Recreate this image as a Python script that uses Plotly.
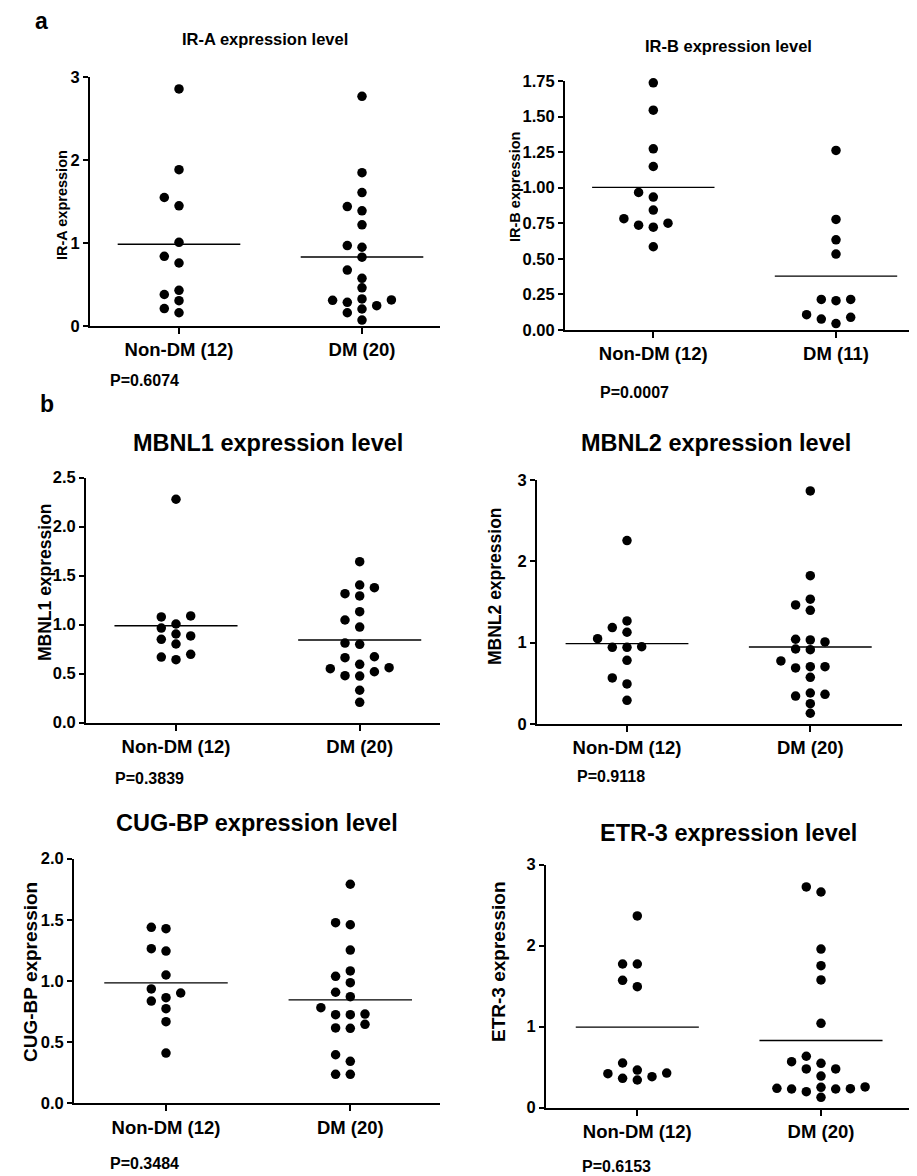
import numpy as np
import plotly.graph_objects as go

# The page body adds an 8px margin, so the figure is drawn 8px smaller and all
# reference pixel positions are shifted by this offset.
PAGE_W, PAGE_H = 917, 1176
OFF = 8
W, H = PAGE_W - OFF, PAGE_H - OFF

# ---------------- data ----------------
GROUPS_A = ["Non-DM (12)", "DM (20)"]
GROUPS_B = ["Non-DM (12)", "DM (11)"]

IRA_NON = [2.86, 1.885, 1.55, 1.45, 1.01, 0.84, 0.76, 0.43, 0.38, 0.305, 0.21, 0.16]
IRA_DM = [2.77, 1.85, 1.61, 1.44, 1.39, 1.22, 0.95, 0.97, 0.83, 0.675, 0.575, 0.46,
          0.326, 0.314, 0.286, 0.31, 0.245, 0.205, 0.16, 0.072]
IRB_NON = [1.737, 1.545, 1.273, 1.149, 0.967, 0.934, 0.843, 0.782, 0.737, 0.723, 0.751, 0.585]
IRB_DM = [1.262, 0.777, 0.634, 0.534, 0.215, 0.206, 0.215, 0.089, 0.045, 0.077, 0.108]
MBNL1_NON = [2.278, 1.077, 1.087, 0.964, 1.005, 0.903, 0.849, 0.801, 0.883, 0.696, 0.641, 0.668]
MBNL1_DM = [1.641, 1.376, 1.403, 1.291, 1.314, 1.131, 1.046, 0.974, 0.798, 0.811, 0.661, 0.671,
            0.594, 0.549, 0.478, 0.474, 0.518, 0.559, 0.329, 0.206]
MBNL2_NON = [2.255, 1.267, 1.128, 1.185, 1.049, 0.951, 0.943, 0.943, 0.783, 0.566, 0.492, 0.291]
MBNL2_DM = [2.866, 1.824, 1.464, 1.534, 1.398, 1.042, 1.009, 1.033, 0.914, 0.922, 0.705, 0.775,
            0.689, 0.705, 0.574, 0.365, 0.344, 0.381, 0.25, 0.132]
CUGBP_NON = [1.439, 1.428, 1.245, 1.264, 1.049, 0.902, 0.836, 0.864, 0.935, 0.774, 0.667, 0.411]
CUGBP_DM = [1.791, 1.477, 1.46, 1.253, 1.082, 1.038, 0.986, 0.908, 0.872, 0.782, 0.725, 0.725,
            0.73, 0.646, 0.613, 0.616, 0.343, 0.397, 0.237, 0.237]
ETR3_NON = [2.367, 1.774, 1.774, 1.573, 1.494, 0.552, 0.428, 0.383, 0.342, 0.363, 0.42, 0.465]
ETR3_DM = [2.663, 2.725, 1.959, 1.753, 1.577, 1.042, 0.635, 0.548, 0.568, 0.478, 0.478, 0.391,
           0.252, 0.239, 0.231, 0.256, 0.198, 0.231, 0.235, 0.128]

TITLES = ["IR-A expression level", "IR-B expression level", "MBNL1 expression level",
          "MBNL2 expression level", "CUG-BP expression level", "ETR-3 expression level"]
YTITLES = ["IR-A expression", "IR-B expression", "MBNL1 expression",
           "MBNL2 expression", "CUG-BP expression", "ETR-3 expression"]
P_VALUES = ["P=0.6074", "P=0.0007", "P=0.3839", "P=0.9118", "P=0.3484", "P=0.6153"]

YTICKS_IRA = [0, 1, 2, 3]
YTICKS_IRB = [0, 0.25, 0.5, 0.75, 1.0, 1.25, 1.5, 1.75]
YTICKS_MBNL1 = [0, 0.5, 1.0, 1.5, 2.0, 2.5]
YTICKS_MBNL2 = [0, 1, 2, 3]
YTICKS_CUGBP = [0, 0.5, 1.0, 1.5, 2.0]
YTICKS_ETR3 = [0, 1, 2, 3]
YTICKTEXT_IRA = ["0", "1", "2", "3"]
YTICKTEXT_IRB = ["0.00", "0.25", "0.50", "0.75", "1.00", "1.25", "1.50", "1.75"]
YTICKTEXT_MBNL1 = ["0.0", "0.5", "1.0", "1.5", "2.0", "2.5"]
YTICKTEXT_MBNL2 = ["0", "1", "2", "3"]
YTICKTEXT_CUGBP = ["0.0", "0.5", "1.0", "1.5", "2.0"]
YTICKTEXT_ETR3 = ["0", "1", "2", "3"]

# ---------------- layout of the panels (reference pixels) ----------------
# x0, x1: x-axis extent; yt, yb: pixel of range top / zero; cn, cd: category centres
PANELS = [
    dict(non=IRA_NON, dm=IRA_DM, groups=GROUPS_A, ticks=YTICKS_IRA, ttext=YTICKTEXT_IRA,
         x0=90, x1=440, yt=77.3, yb=326, cn=179, cd=362,
         title=(265, 39, 16.5), ytitle=(62, 205, 14.5), p=(108, 380)),
    dict(non=IRB_NON, dm=IRB_DM, groups=GROUPS_B, ticks=YTICKS_IRB, ttext=YTICKTEXT_IRB,
         x0=565, x1=915, yt=81, yb=330, cn=653.3, cd=836,
         title=(728, 46, 16.5), ytitle=(515, 187, 14.5), p=(598, 392)),
    dict(non=MBNL1_NON, dm=MBNL1_DM, groups=GROUPS_A, ticks=YTICKS_MBNL1, ttext=YTICKTEXT_MBNL1,
         x0=86, x1=440, yt=477.5, yb=722.5, cn=176, cd=359.7,
         title=(268, 443, 23.5), ytitle=(45, 582, 17.5), p=(113, 778)),
    dict(non=MBNL2_NON, dm=MBNL2_DM, groups=GROUPS_A, ticks=YTICKS_MBNL2, ttext=YTICKTEXT_MBNL2,
         x0=537, x1=902, yt=480, yb=724, cn=627, cd=810.3,
         title=(716, 443, 23.5), ytitle=(495, 586, 17.5), p=(575, 776)),
    dict(non=CUGBP_NON, dm=CUGBP_DM, groups=GROUPS_A, ticks=YTICKS_CUGBP, ttext=YTICKTEXT_CUGBP,
         x0=74, x1=440, yt=858.7, yb=1103.3, cn=166, cd=350.3,
         title=(257, 823, 23.5), ytitle=(30, 972, 19), p=(108, 1163)),
    dict(non=ETR3_NON, dm=ETR3_DM, groups=GROUPS_A, ticks=YTICKS_ETR3, ttext=YTICKTEXT_ETR3,
         x0=546, x1=913, yt=864.7, yb=1107.7, cn=637.3, cd=821,
         title=(728, 833, 23.5), ytitle=(498, 962, 19), p=(580, 1166)),
]

FONT = "Liberation Sans, Arial, Helvetica, sans-serif"
MARKER_D = 9.5
SLOT_PX = 14.7
HALF_LINE = 0.335


def swarm(vals, px_per_unit, px_per_cat):
    """Simple beeswarm: columns spaced SLOT_PX apart, no overlap inside a column."""
    vals = np.asarray(vals, dtype=float)
    order = np.argsort(vals)
    placed = {}
    slots = np.zeros(len(vals))
    cands = [0, -1, 1, -2, 2, -3, 3, -4, 4]
    for i in order:
        y = vals[i] * px_per_unit
        for s in cands:
            if all(abs(y - yy) >= MARKER_D for yy in placed.get(s, [])):
                placed.setdefault(s, []).append(y)
                slots[i] = s
                break
    return slots * SLOT_PX / px_per_cat


def fx(xp):
    return (xp - OFF) / W


def fy(yp):
    return 1 - (yp - OFF) / H


fig = go.Figure()
annotations = []

for k, P in enumerate(PANELS, start=1):
    xa = "x" if k == 1 else f"x{k}"
    ya = "y" if k == 1 else f"y{k}"
    ymax = P["ticks"][-1]
    span = P["cd"] - P["cn"]
    xr = [(P["x0"] - P["cn"]) / span, (P["x1"] - P["cn"]) / span]
    px_per_unit = (P["yb"] - P["yt"]) / ymax

    for gi, vals in enumerate([P["non"], P["dm"]]):
        offs = swarm(vals, px_per_unit, span)
        fig.add_trace(go.Scatter(
            x=gi + offs, y=vals, mode="markers", xaxis=xa, yaxis=ya,
            marker=dict(size=MARKER_D, color="black", line=dict(width=0)),
            cliponaxis=False, showlegend=False, hoverinfo="y"))
        m = float(np.mean(vals))
        fig.add_trace(go.Scatter(
            x=[gi - HALF_LINE, gi + HALF_LINE], y=[m, m], mode="lines", xaxis=xa, yaxis=ya,
            line=dict(color="black", width=1.4), showlegend=False, hoverinfo="skip"))

    axis_common = dict(showline=True, linecolor="black", linewidth=2, showgrid=False,
                       zeroline=False, ticks="outside", tickcolor="black", tickwidth=1.5,
                       ticklen=5, automargin=False)
    fig.layout[f"xaxis{'' if k == 1 else k}"] = dict(
        axis_common, domain=[fx(P["x0"]), min(fx(P["x1"]), 1.0)], range=xr, anchor=ya,
        tickvals=[0, 1], ticktext=P["groups"], ticklen=6,
        tickfont=dict(size=18.5, family=FONT, color="black", weight="bold"))
    fig.layout[f"yaxis{'' if k == 1 else k}"] = dict(
        axis_common, domain=[fy(P["yb"]), fy(P["yt"])], range=[0, ymax], anchor=xa,
        tickvals=P["ticks"], ticktext=P["ttext"],
        tickfont=dict(size=16.5, family=FONT, color="black", weight="bold"))

    tx, ty, ts = P["title"]
    annotations.append(dict(text=TITLES[k - 1], x=fx(tx), y=fy(ty), xref="paper", yref="paper",
                            xanchor="center", yanchor="middle", showarrow=False,
                            font=dict(size=ts, family=FONT, color="black", weight="bold")))
    yx, yy, ys = P["ytitle"]
    annotations.append(dict(text=YTITLES[k - 1], x=fx(yx), y=fy(yy), xref="paper", yref="paper",
                            textangle=-90, xanchor="center", yanchor="middle", showarrow=False,
                            font=dict(size=ys, family=FONT, color="black", weight="bold")))
    pxx, pyy = P["p"]
    annotations.append(dict(text=P_VALUES[k - 1], x=fx(pxx), y=fy(pyy), xref="paper",
                            yref="paper", xanchor="left", yanchor="middle", showarrow=False,
                            font=dict(size=16, family=FONT, color="black", weight="bold")))

for letter, (lx, ly) in [("a", (33, 21)), ("b", (38, 404))]:
    annotations.append(dict(text=letter, x=fx(lx), y=fy(ly), xref="paper", yref="paper",
                            xanchor="left", yanchor="middle", showarrow=False,
                            font=dict(size=23, family=FONT, color="black", weight="bold")))

fig.update_layout(width=W, height=H, margin=dict(l=0, r=0, t=0, b=0, autoexpand=False),
                  template="none",
                  paper_bgcolor="white", plot_bgcolor="white",
                  font=dict(family=FONT, color="black"),
                  annotations=annotations, showlegend=False)

fig.write_html("out.html")
